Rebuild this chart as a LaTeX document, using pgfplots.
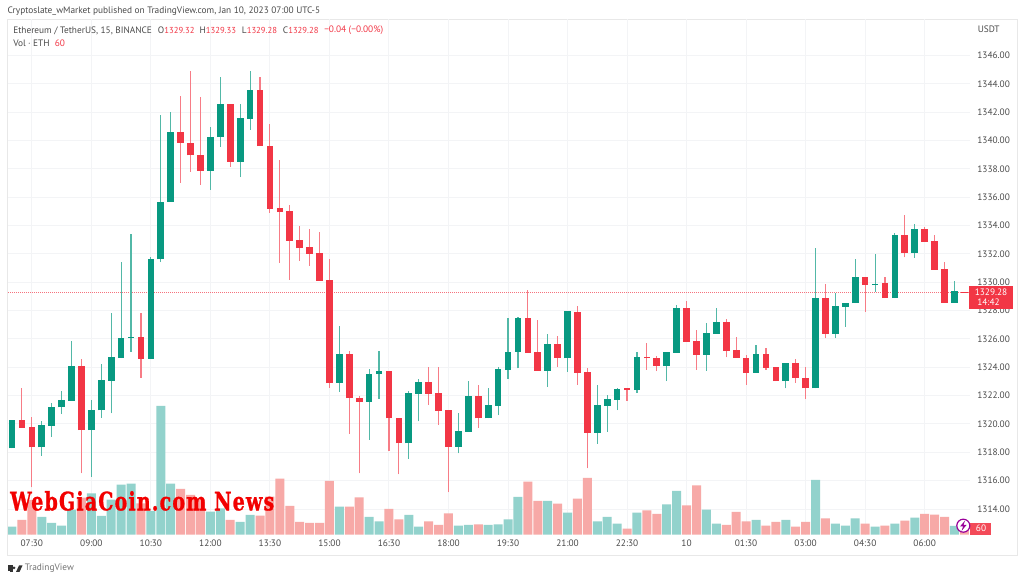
\documentclass[border=0pt]{standalone}
\usepackage{graphicx}
\usepackage{pgfplots}
\usepackage{pgfplotstable}
\usepackage{fontspec}
\pgfplotsset{compat=1.18}
\setmainfont{PT Sans}
\newfontfamily\wmfont[LetterSpace=6,BoldFeatures={FakeBold=1.2}]{DejaVu Serif}
\definecolor{tvg}{HTML}{089981}
\definecolor{tvr}{HTML}{F23645}
\definecolor{vg}{HTML}{92D2CC}
\definecolor{vr}{HTML}{F7A9A7}
\definecolor{gridc}{HTML}{F3F4F6}
\definecolor{txt}{HTML}{4A4A4A}

% i low bodylow bodyhigh high
\pgfplotstableread{
i low bot top high
0 1318.28 1318.28 1320.28 1320.28
3 1317.76 1318.35 1319.90 1320.23
4 1319.10 1319.88 1321.22 1321.45
5 1320.70 1321.17 1321.69 1322.35
6 1321.64 1321.64 1324.07 1325.85
8 1316.28 1319.57 1321.01 1321.69
9 1320.44 1320.96 1323.08 1324.23
10 1320.75 1323.05 1324.75 1327.81
11 1324.65 1324.65 1326.09 1331.45
12 1325.08 1326.07 1326.16 1333.38
14 1324.61 1324.61 1331.64 1331.76
15 1331.41 1331.62 1335.69 1341.81
16 1335.67 1335.67 1340.58 1342.04
20 1336.51 1337.85 1340.25 1340.94
21 1339.57 1340.23 1342.56 1344.47
23 1337.41 1338.51 1341.57 1342.56
24 1340.75 1341.53 1343.55 1344.89
33 1322.29 1322.90 1324.92 1326.90
36 1318.90 1321.56 1323.56 1323.89
37 1321.77 1323.51 1323.77 1325.18
40 1317.56 1318.64 1322.17 1322.36
41 1320.19 1322.12 1322.94 1323.20
45 1317.93 1318.38 1319.51 1320.80
46 1319.46 1319.46 1322.00 1323.04
48 1320.40 1320.40 1321.32 1322.54
49 1320.62 1321.30 1323.89 1324.00
50 1323.20 1323.84 1325.11 1327.46
51 1323.93 1325.09 1327.46 1327.53
54 1322.64 1323.77 1325.63 1326.36
56 1323.67 1324.62 1327.98 1327.98
59 1318.59 1319.37 1321.32 1322.78
60 1319.46 1321.30 1321.74 1322.05
61 1320.97 1321.70 1322.47 1322.52
63 1322.22 1322.38 1324.76 1325.06
66 1323.03 1324.09 1325.06 1325.06
67 1325.03 1325.03 1328.16 1328.37
70 1323.74 1324.87 1326.40 1327.10
71 1326.35 1326.35 1327.17 1328.16
75 1323.62 1323.62 1324.96 1325.55
78 1322.52 1323.03 1324.28 1324.28
81 1322.52 1322.52 1328.92 1332.40
83 1326.07 1326.37 1328.33 1329.22
84 1326.87 1328.28 1328.52 1328.56
85 1328.52 1328.52 1330.40 1331.65
87 1329.32 1329.79 1329.88 1331.97
89 1328.87 1328.87 1333.36 1333.50
91 1331.72 1332.09 1333.76 1334.12
95 1328.56 1328.56 1329.36 1330.09
}\greentab

\pgfplotstableread{
i low bot top high
1 1319.74 1319.74 1320.28 1322.51
2 1315.53 1318.35 1319.81 1320.47
7 1316.51 1319.57 1324.07 1324.58
13 1323.27 1324.61 1326.14 1327.85
17 1337.01 1339.83 1340.58 1343.17
18 1337.81 1338.94 1339.85 1344.89
19 1336.87 1337.85 1338.96 1343.05
22 1338.16 1338.51 1342.56 1342.56
25 1339.60 1339.60 1343.55 1344.47
26 1334.91 1335.20 1339.64 1341.15
27 1331.38 1334.94 1335.22 1338.63
28 1330.16 1332.91 1335.01 1335.43
29 1331.50 1332.40 1332.96 1334.00
30 1331.15 1332.02 1332.49 1333.74
31 1330.11 1330.11 1332.07 1333.57
32 1322.56 1322.89 1330.14 1331.64
34 1319.32 1321.82 1324.92 1325.18
35 1316.52 1321.56 1321.84 1322.00
38 1318.12 1320.40 1323.72 1323.72
39 1316.45 1318.64 1320.45 1320.45
42 1321.34 1322.12 1322.94 1324.03
43 1319.93 1320.92 1322.17 1324.03
44 1315.18 1318.38 1320.97 1320.97
47 1319.74 1320.40 1322.00 1322.73
52 1325.04 1325.04 1327.46 1329.46
53 1323.77 1323.77 1325.06 1327.30
55 1324.03 1324.66 1325.63 1326.22
57 1322.78 1323.63 1327.91 1328.29
58 1316.87 1319.37 1323.65 1323.98
62 1321.65 1322.38 1322.54 1322.54
64 1323.82 1324.62 1324.76 1325.70
65 1323.72 1324.10 1324.64 1324.80
68 1325.81 1325.81 1328.16 1328.68
69 1323.81 1324.87 1325.83 1326.63
72 1324.70 1325.17 1327.17 1327.39
73 1324.66 1324.66 1325.22 1326.14
74 1322.75 1323.62 1324.68 1324.85
76 1323.81 1323.97 1324.96 1325.34
77 1323.03 1323.03 1324.02 1324.02
79 1322.92 1323.25 1324.28 1324.56
80 1321.76 1322.52 1323.25 1324.05
82 1326.05 1326.37 1328.92 1329.86
86 1327.93 1329.81 1330.35 1330.35
88 1328.87 1328.87 1329.93 1330.35
90 1331.76 1332.09 1333.36 1334.73
92 1332.85 1332.85 1333.76 1333.88
93 1330.89 1330.89 1332.89 1333.32
94 1328.56 1328.56 1330.92 1331.43
96 1329.28 1329.28 1329.33 1329.33
}\redtab

\pgfplotstableread{
i v
0 80
3 177
4 117
5 90
6 250
8 413
9 187
10 350
11 500
12 510
14 237
15 1287
16 510
20 230
21 263
23 127
24 197
33 280
36 177
37 133
40 197
41 80
45 90
46 97
48 97
49 103
50 153
51 377
54 337
56 220
59 133
60 177
61 110
63 220
66 303
67 437
70 250
71 110
75 147
78 147
81 547
83 110
84 90
85 163
87 80
89 110
91 170
95 87
}\volgreen

\pgfplotstableread{
i v
1 147
2 347
7 370
13 313
17 457
18 397
19 347
22 147
25 190
26 380
27 560
28 287
29 127
30 117
31 117
32 537
34 280
35 373
38 257
39 153
42 133
43 97
44 213
47 103
52 530
53 337
55 310
57 360
58 567
62 60
64 243
65 207
68 293
69 493
72 97
73 227
74 133
76 90
77 127
79 80
80 127
82 163
86 110
88 90
90 140
92 207
93 200
94 177
96 60
}\volred

\pgfplotsset{
  pane/.style={
    at={(6pt,34.725pt)}, anchor=south west, scale only axis,
    width=721.5pt, height=387pt,
    xmin=-0.403, xmax=96.57, clip=true,
  },
  body/.style={draw=none, mark=none, forget plot,
    error bars/.cd, y dir=plus, y explicit, error mark=none,
    error bar style={line width=5pt, solid, color=#1}},
  wick/.style={draw=none, mark=none, forget plot,
    error bars/.cd, y dir=plus, y explicit, error mark=none,
    error bar style={line width=0.85pt, solid, color=#1}},
}

\begin{document}
\begin{tikzpicture}[font=\fontsize{7pt}{8.5pt}\selectfont]
\begin{scope}[x=0.75pt,y=0.75pt]
\useasboundingbox (0,0) rectangle (1024,581);
\fill[white] (0,0) rectangle (1024,581);
\draw[color=black!9,line width=0.6pt] (7.3,26) rectangle (1017,562);
\end{scope}

% price scale and grid
\begin{axis}[pane,
  ymin=1312.19, ymax=1348.59,
  axis line style={draw=none},
  xtick={2,8,...,92},
  xticklabels={07:30,09:00,10:30,12:00,13:30,15:00,16:30,18:00,19:30,21:00,22:30,10,01:30,03:00,04:30,06:00},
  ytick={1314,1316,...,1346},
  yticklabel pos=right,
  grid=major,
  major grid style={color=gridc,line width=0.75pt},
  tick style={draw=none},
  xticklabel style={color=txt,font=\fontsize{7pt}{8.5pt}\selectfont,yshift=-0.5pt},
  yticklabel style={color=txt,font=\fontsize{7pt}{8.5pt}\selectfont,anchor=west,xshift=2pt,
    /pgf/number format/.cd,fixed,fixed zerofill,precision=2,1000 sep={},assume math mode=true},
]
\end{axis}

% volume
\begin{axis}[pane, hide axis, ymin=0, ymax=5157]
\addplot[ybar, bar width=6.75pt, bar shift=0pt, fill=vg, draw=none, forget plot] table[x=i,y=v] {\volgreen};
\addplot[ybar, bar width=6.75pt, bar shift=0pt, fill=vr, draw=none, forget plot] table[x=i,y=v] {\volred};
\end{axis}

% candles
\begin{axis}[pane, hide axis, ymin=1312.19, ymax=1348.59]
\addplot[color=tvr!70, densely dotted, line width=0.5pt, forget plot] coordinates {(-0.403,1329.28) (96.57,1329.28)};
\addplot[wick=tvg!70] table[x=i, y=low, y error plus expr=\thisrow{high}-\thisrow{low}] {\greentab};
\addplot[wick=tvr!65] table[x=i, y=low, y error plus expr=\thisrow{high}-\thisrow{low}] {\redtab};
\addplot[body=tvg] table[x=i, y=bot, y error plus expr=\thisrow{top}-\thisrow{bot}] {\greentab};
\addplot[body=tvr] table[x=i, y=bot, y error plus expr=\thisrow{top}-\thisrow{bot}] {\redtab};
\end{axis}

\begin{scope}[x=0.75pt,y=0.75pt]
% header texts
\node[anchor=west,inner sep=0,color=txt] at (7.3,570) {Cryptoslate\_wMarket published on TradingView.com, Jan 10, 2023 07:00 UTC-5};
\node[anchor=west,inner sep=0,color=txt] at (13,550.3) {Ethereum / TetherUS, 15, BINANCE};
\node[anchor=west,inner sep=0,color=txt] at (157.7,550.3) {O\textcolor{tvr}{\fontsize{6.5pt}{8pt}\selectfont 1329.32}};
\node[anchor=west,inner sep=0,color=txt] at (199.3,550.3) {H\textcolor{tvr}{\fontsize{6.5pt}{8pt}\selectfont 1329.33}};
\node[anchor=west,inner sep=0,color=txt] at (241.7,550.3) {L\textcolor{tvr}{\fontsize{6.5pt}{8pt}\selectfont 1329.28}};
\node[anchor=west,inner sep=0,color=txt] at (282.7,550.3) {C\textcolor{tvr}{\fontsize{6.5pt}{8pt}\selectfont 1329.28}};
\node[anchor=west,inner sep=0,color=tvr] at (324,550.3) {−0.04 (−0.00\%)};
\node[anchor=west,inner sep=0,color=txt] at (13,538) {Vol · ETH};
\node[anchor=west,inner sep=0,color=tvr] at (54.5,538) {60};
\node[anchor=west,inner sep=0,color=txt] at (977.5,551.5) {USDT};

% last price tag
\fill[tvr] (969.3,272.3) rectangle (1012.7,295);
\node[color=white,inner sep=0] at (991,288.5) {1329.28};
\node[color=white,inner sep=0] at (988.5,278.5) {14:42};
% last volume tag
\fill[color=tvr!90!white] (969.7,46.3) rectangle (991,58.3);
\node[color=white,inner sep=0] at (981,52.3) {60};
% lightning icon
\filldraw[fill=white,draw=violet!80!magenta,line width=0.9pt] (963.3,55.3) circle (6.5);
\fill[violet!80!magenta] (965,60.5) -- (960,54.5) -- (963,54.5) -- (961.5,50) -- (966.5,56) -- (963.5,56) -- cycle;

% watermark
\node[anchor=south west,inner sep=0,color=red!95!black] at (10,70) {\resizebox{198pt}{14.5pt}{\wmfont\bfseries WebGiaCoin.com News}};

% footer
\fill[black!80] (7.5,15.5) rectangle (13,10);
\fill[black!80] (10,15.5) rectangle (13,9);
\fill[black!80] (14,13) circle (1.5);
\fill[black!80] (16,9) -- (19,15.5) -- (22.5,15.5) -- (19.5,9) -- cycle;
\node[anchor=west,inner sep=0,color=black!55] at (24.7,13) {TradingView};
\end{scope}
\end{tikzpicture}
\end{document}
